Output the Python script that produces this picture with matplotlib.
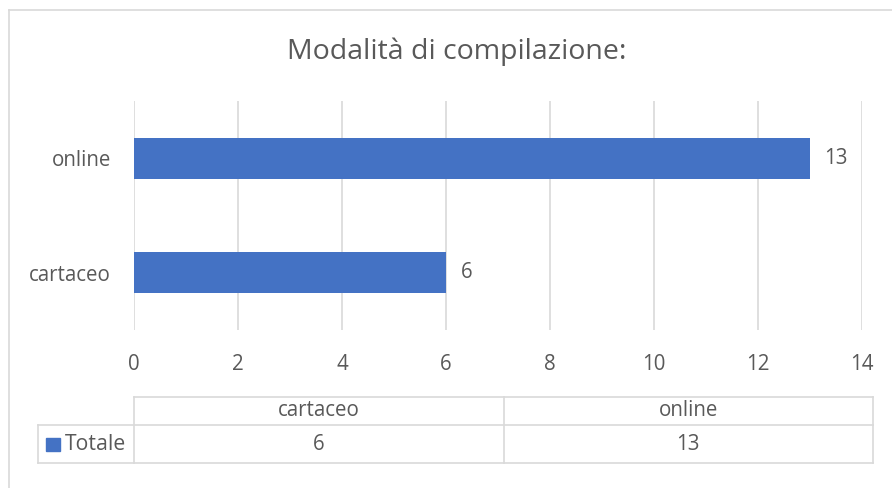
import matplotlib
matplotlib.use("Agg")
import matplotlib.pyplot as plt
from matplotlib.lines import Line2D
from matplotlib.patches import Rectangle

categories = ["cartaceo", "online"]
values = [6, 13]
series_name = "Totale"
title = "Modalità di compilazione:"
xticks = [0, 2, 4, 6, 8, 10, 12, 14]

W, H = 892, 488
BAR = "#4472C4"
TXT = "#595959"
GRID = "#d9d9d9"
FONT = ["Open Sans", "DejaVu Sans"]
plt.rcParams['font.family'] = FONT
FS = 14.8

fig = plt.figure(figsize=(W / 100, H / 100), dpi=100)

def fx(px):
    return px / W

def fy(py):
    return 1 - py / H

# outer chart border (top and left visible)
fig.add_artist(Line2D([fx(8.5), fx(892)], [fy(9.5), fy(9.5)], color=GRID, lw=1.2))
fig.add_artist(Line2D([fx(8.5), fx(8.5)], [fy(9.5), fy(488)], color=GRID, lw=1.2))

ax_l, ax_r, ax_t, ax_b = 134, 862, 101, 330
ax = fig.add_axes([fx(ax_l), fy(ax_b), fx(ax_r - ax_l), (ax_b - ax_t) / H])
ypos = list(range(len(categories)))
ax.barh(ypos, values, height=0.36, color=BAR, zorder=3)
ax.set_xlim(0, 14)
ax.set_ylim(-0.5, len(categories) - 0.5)
ax.set_xticks(xticks)
ax.set_xticklabels([str(t) for t in xticks])
ax.set_yticks(ypos)
ax.set_yticklabels(categories)
ax.tick_params(axis='both', length=0, labelsize=FS, colors=TXT)
ax.tick_params(axis='x', pad=17)
ax.tick_params(axis='y', pad=16.5)
ax.grid(axis='x', color=GRID, lw=1.2, zorder=0)
for s in ax.spines.values():
    s.set_visible(False)
for y, v in zip(ypos, values):
    ax.text(v + 0.28, y, str(v), va='center', ha='left', fontsize=FS, color=TXT)

fig.text(fx(457), fy(52), title, ha='center', va='center', fontsize=20.5, color=TXT)

# data table
t_top, t_mid, t_bot = 396.5, 425, 463
t_left, t_lab, t_right = 38, 134, 873
ncol = len(categories)
colw = (t_right - t_lab) / ncol
lw = 1.2
def hline(y, x0, x1):
    fig.add_artist(Line2D([fx(x0), fx(x1)], [fy(y), fy(y)], color=GRID, lw=lw))
def vline(x, y0, y1):
    fig.add_artist(Line2D([fx(x), fx(x)], [fy(y0), fy(y1)], color=GRID, lw=lw))
hline(t_top, t_lab, t_right)
hline(t_mid, t_left, t_right)
hline(t_bot, t_left, t_right)
vline(t_left, t_mid, t_bot)
for i in range(ncol + 1):
    vline(t_lab + i * colw, t_top, t_bot)
for i, (c, v) in enumerate(zip(categories, values)):
    cx = t_lab + (i + 0.5) * colw
    fig.text(fx(cx), fy((t_top + t_mid) / 2), c, ha='center', va='center', fontsize=FS, color=TXT)
    fig.text(fx(cx), fy((t_mid + t_bot) / 2), str(v), ha='center', va='center', fontsize=FS, color=TXT)
fig.add_artist(Rectangle((fx(46), fy(451)), fx(14), 13 / H, color=BAR))
fig.text(fx(65), fy((t_mid + t_bot) / 2), series_name, ha='left', va='center', fontsize=15.3, color=TXT)

fig.savefig("out.png", dpi=100)
